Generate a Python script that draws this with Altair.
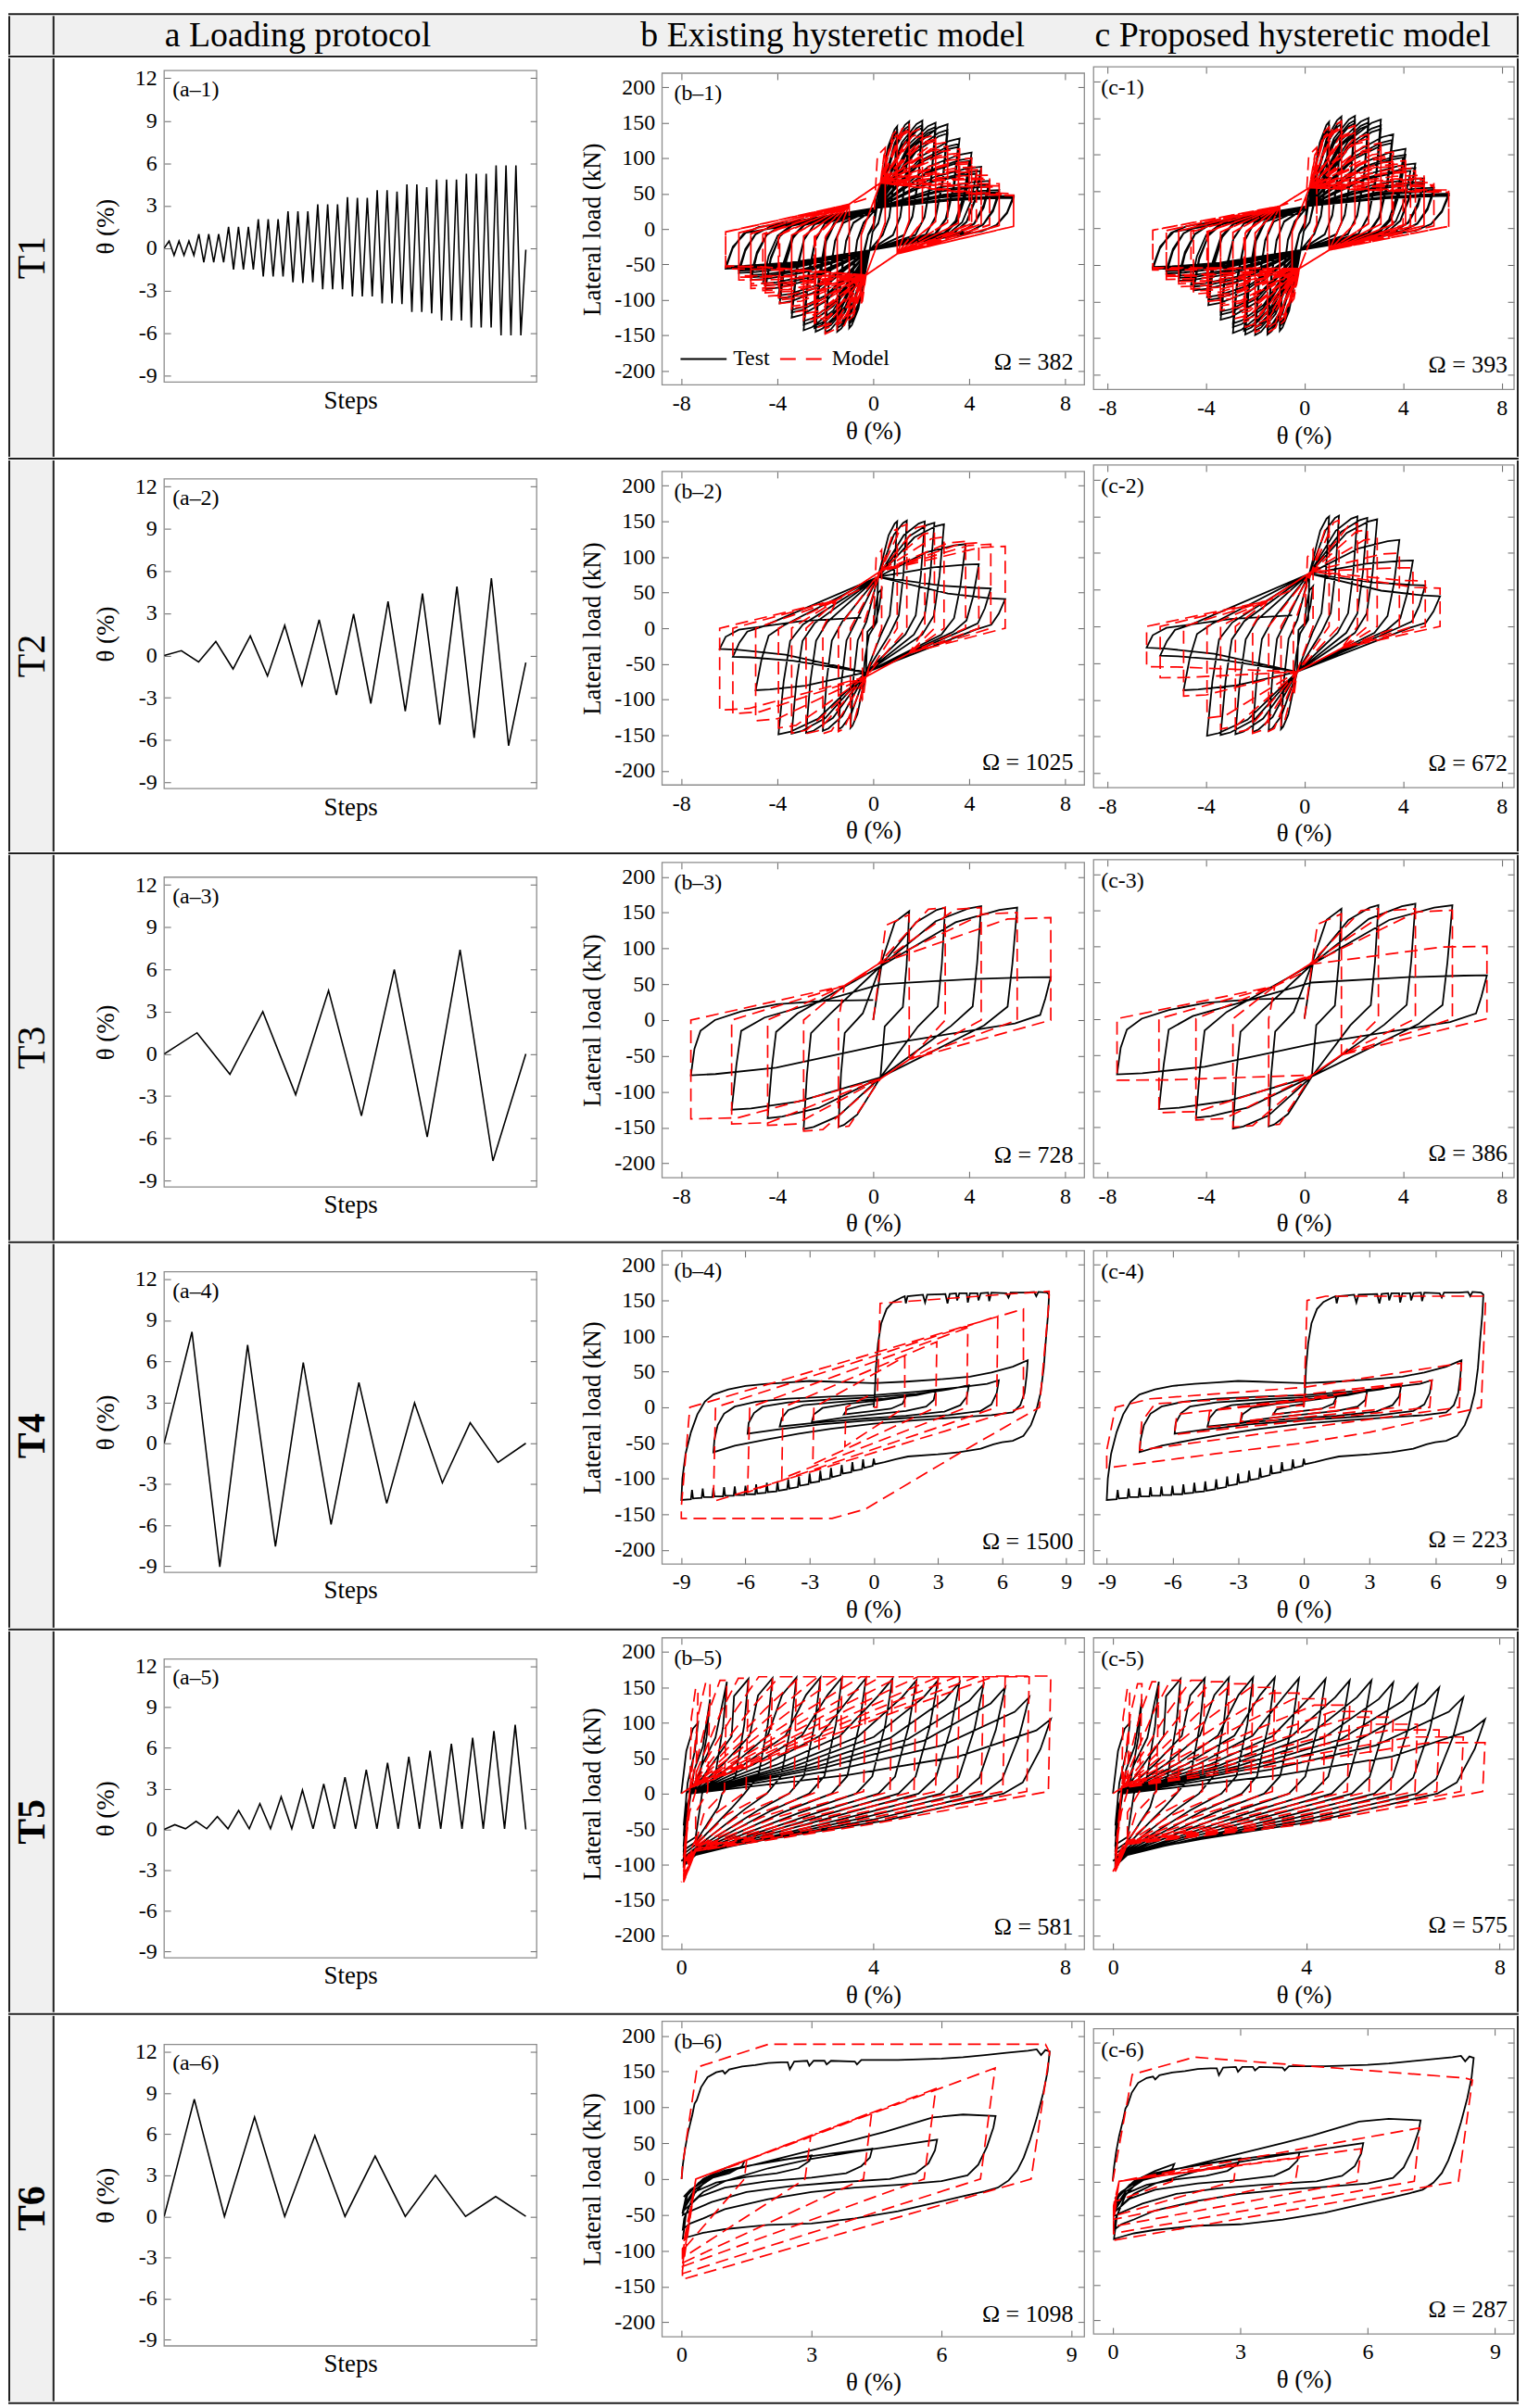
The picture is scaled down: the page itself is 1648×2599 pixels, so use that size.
import altair as alt
import pandas as pd

FONT = "Liberation Serif"
BOX = "#8c8c8c"
TICKC = "#666666"
TBL = "#1f1f1f"
CELLBG = "#f0f0f0"

# ---------------- Loading protocols (reversal drift, %) ----------------
T1_pos = [0.5, 0.5, 0.5, 1.0, 1.0, 1.0, 1.5, 1.5, 1.5, 2.05, 2.05, 2.05,
          2.6, 2.6, 2.6, 3.1, 3.1, 3.1, 3.6, 3.55, 3.55, 4.1, 4.1, 4.0,
          4.5, 4.5, 4.3, 4.85, 4.85, 4.85, 5.25, 5.25, 5.25, 5.85, 5.85, 5.85]
T1_neg = [-0.5, -0.5, -0.5, -1.0, -1.0, -1.0, -1.5, -1.5, -1.5, -2.0, -2.0, -2.0,
          -2.4, -2.45, -2.4, -2.9, -2.9, -2.9, -3.4, -3.4, -3.4, -3.9, -3.9, -3.95,
          -4.5, -4.5, -4.6, -5.1, -5.1, -5.1, -5.6, -5.6, -5.6, -6.15, -6.15, -6.15]
T1_end = -0.1
T2_pos = [0.35, 1.0, 1.4, 2.15, 2.55, 2.95, 3.85, 4.4, 4.9, 5.5]
T2_neg = [-0.45, -0.95, -1.45, -2.1, -2.8, -3.4, -3.95, -4.9, -5.85, -6.4]
T2_end = -0.5
T3_rev = [0.0, 1.5, -1.45, 3.0, -2.9, 4.5, -4.4, 6.0, -5.9, 7.4, -7.6, 0.0]
T4_rev = [0.0, 8.15, -9.05, 7.2, -7.55, 5.9, -5.95, 4.45, -4.4, 2.95, -2.9, 1.5, -1.4, 0.0]
T5_peak = [0.35, 0.6, 0.95, 1.4, 1.9, 2.4, 2.9, 3.35, 3.85, 4.4, 4.9, 5.35, 5.8, 6.3, 6.75, 7.25, 7.7]
T5_valley = [0.05, 0.05, 0.05, 0.05, 0.05, 0.05, 0.05, 0.05, 0.05, 0.05, 0.05, 0.05, 0.05, 0.05, 0.05, 0.05, 0.0]
T6_rev = [0.0, 8.55, 0.0, 7.25, 0.0, 5.9, 0.0, 4.4, 0.0, 3.0, 0.0, 1.45, 0.0]

# ---------------- Peak lateral loads (kN) per cycle ----------------
T1_test_Fp = [72, 66, 64, 145, 138, 134, 152, 146, 142, 153, 147, 143, 150, 144, 140, 148, 140, 135,
              128, 120, 116, 108, 100, 96, 88, 82, 78, 68, 63, 60, 55, 52, 50, 47, 45, 44]
T1_test_Fn = [-70, -64, -62, -140, -134, -130, -145, -140, -136, -146, -140, -136, -145, -140, -136,
              -143, -135, -130, -125, -118, -114, -105, -98, -94, -85, -80, -77, -72, -68, -65,
              -62, -59, -57, -56, -54, -53]
T1_mb_Fp = [115, 108, 105, 140, 133, 130, 148, 141, 138, 143, 136, 132, 133, 127, 124, 123, 117, 114,
            113, 107, 104, 100, 95, 92, 88, 84, 81, 76, 72, 70, 64, 61, 59, 50, 48, 47]
T1_mb_Fn = [-105, -100, -97, -128, -122, -118, -142, -135, -131, -148, -141, -137, -140, -133, -129,
            -130, -124, -120, -118, -112, -109, -105, -100, -97, -95, -90, -87, -84, -80, -77,
            -72, -68, -66, -56, -53, -52]
T1_mc_Fp = [110, 104, 100, 138, 131, 128, 146, 139, 136, 140, 133, 130, 128, 122, 119, 116, 110, 107,
            104, 99, 96, 92, 88, 85, 82, 78, 76, 72, 68, 66, 62, 59, 57, 52, 50, 49]
T1_mc_Fn = [-100, -95, -92, -132, -126, -122, -143, -136, -132, -142, -135, -131, -135, -128, -124,
            -124, -118, -114, -112, -106, -103, -100, -95, -92, -90, -86, -83, -80, -76, -73,
            -70, -66, -64, -57, -55, -54]

T2_test_Fp = [55, 150, 151, 150, 148, 146, 118, 90, 56, 41]
T2_test_Fn = [-80, -140, -142, -144, -147, -148, -149, -87, -40, -29]
T2_mb_Fp = [110, 140, 146, 144, 135, 128, 122, 120, 118, 115]
T2_mb_Fn = [-100, -138, -145, -148, -148, -147, -140, -130, -120, -115]
T2_mc_Fp = [105, 138, 145, 140, 132, 120, 100, 80, 62, 52]
T2_mc_Fn = [-95, -135, -143, -146, -145, -140, -125, -95, -70, -55]

T3_test_F = [152, -149, 157, -152, 159, -137, 157, -125, 60, -77]
T3_mb_F = [147, -150, 157, -155, 157, -147, 150, -145, 143, -138]
T3_mc_F = [145, -148, 152, -150, 152, -140, 150, -130, 100, -85]
T3_pinF_pos = [75, 75, 75, 75, 50]
T3_pinF_neg = [-80, -80, -80, -80, -35]

T5_test_Fp = [100, 133, 158, 162, 163, 164, 164, 164, 163, 162, 160, 160, 157, 154, 150, 136, 105]
T5_test_Fl = [-45, -60, -72, -80, -85, -90, -93, -95, -97, -98, -100, -100, -101, -102, -100, -98, -95]
T5_mb_Fp = [148, 157, 160, 163, 165, 165, 165, 165, 165, 165, 165, 165, 165, 165, 165, 165, 166]
T5_mb_Fl = [-90, -100, -105, -110, -112, -115, -117, -118, -120, -120, -121, -122, -123, -124, -124, -125, -125]
T5_mc_Fp = [148, 155, 158, 160, 160, 158, 155, 150, 142, 134, 125, 116, 108, 98, 90, 80, 72]
T5_mc_Fl = [-85, -95, -100, -103, -105, -106, -107, -108, -108, -109, -109, -110, -110, -110, -110, -110, -110]

# explicit traced paths (drift %, load kN)
T4_test = [(0, 0), (0.05, 20), (0.1, 55), (0.2, 90), (0.35, 118), (0.6, 138), (0.9, 148), (1.3, 154),
           (1.45, 156), (1.5, 146), (1.58, 156), (2.3, 158), (2.4, 147), (2.5, 158), (3.35, 159),
           (3.45, 146), (3.55, 159), (3.85, 160), (3.9, 150), (4.0, 160), (4.35, 160), (4.4, 147),
           (4.5, 160), (4.85, 160), (4.9, 150), (5.0, 160), (5.35, 161), (5.4, 149), (5.5, 161),
           (6.2, 160), (6.3, 154), (6.4, 161), (7.1, 161), (7.5, 162), (7.6, 156), (7.7, 162),
           (8.1, 161), (8.2, 158),
           (8.15, 130), (8.05, 95), (7.95, 55), (7.8, 20), (7.6, -5), (7.35, -25), (7.0, -40), (6.5, -47),
           (6.0, -49), (5.6, -52), (5.0, -58), (4.0, -63), (3.0, -66), (1.6, -69), (1.0, -73), (0.5, -77),
           (0.05, -80), (0.0, -72), (-0.05, -82), (-0.45, -85), (-0.5, -73), (-0.55, -87), (-0.95, -89),
           (-1.0, -77), (-1.05, -91), (-1.45, -93), (-1.5, -81), (-1.55, -95), (-1.95, -98), (-2.0, -85),
           (-2.05, -100), (-2.45, -102), (-2.5, -89), (-2.55, -104), (-2.95, -106), (-3.0, -93),
           (-3.05, -108), (-3.45, -110), (-3.5, -97), (-3.55, -112), (-3.95, -114), (-4.0, -101),
           (-4.05, -115), (-4.45, -117), (-4.5, -104), (-4.55, -118), (-4.95, -119), (-5.0, -106),
           (-5.05, -120), (-5.45, -121), (-5.5, -108), (-5.55, -122), (-5.95, -122), (-6.0, -110),
           (-6.05, -123), (-6.45, -123), (-6.5, -111), (-6.55, -124), (-6.95, -124), (-7.0, -112),
           (-7.05, -125), (-7.45, -125), (-7.5, -113), (-7.55, -126), (-7.95, -126), (-8.0, -114),
           (-8.05, -127), (-8.45, -128), (-8.5, -116), (-8.55, -129), (-9.0, -130),
           (-8.95, -100), (-8.8, -65), (-8.55, -35), (-8.25, -10), (-7.9, 8), (-7.5, 18), (-6.8, 25),
           (-6.0, 30), (-5.0, 33), (-4.0, 35), (-3.0, 37), (-2.0, 36), (-1.0, 35), (0.0, 34), (1.5, 36),
           (3.0, 39), (4.5, 43), (5.5, 49), (6.5, 57), (7.2, 66),
           (7.15, 45), (7.05, 20), (6.85, 3), (6.5, -7), (5.5, -11), (4.0, -14), (2.0, -18), (0.0, -23),
           (-2.0, -30), (-3.5, -37), (-5.0, -45), (-6.5, -54), (-7.5, -63),
           (-7.45, -45), (-7.3, -25), (-7.0, -9), (-6.5, 1), (-5.5, 8), (-4.0, 12), (-2.0, 15), (0.0, 17),
           (2.0, 22), (4.0, 28), (5.3, 33), (5.85, 38),
           (5.75, 20), (5.5, 4), (5.0, -5), (3.5, -11), (1.5, -15), (-0.5, -19), (-2.5, -24), (-4.5, -31),
           (-5.9, -37),
           (-5.85, -22), (-5.6, -8), (-5.2, 1), (-4.0, 7), (-2.0, 11), (0.0, 14), (2.0, 19), (3.5, 25),
           (4.45, 31),
           (4.35, 15), (4.05, 3), (3.3, -6), (1.5, -12), (-0.5, -16), (-2.5, -21), (-4.4, -27),
           (-4.3, -15), (-4.0, -4), (-3.3, 3), (-1.5, 8), (0.5, 12), (2.0, 17), (2.9, 23),
           (2.8, 10), (2.45, 1), (1.5, -5), (0.0, -10), (-1.5, -15), (-2.9, -21),
           (-2.8, -10), (-2.4, -1), (-1.2, 5), (0.3, 10), (1.5, 15),
           (1.35, 5), (0.8, -2), (-0.3, -6), (-1.4, -10),
           (-1.25, -3), (-0.6, 2), (0.0, 5)]
T4_mb = [(0, 0), (0.15, 0), (0.3, 146), (8.2, 163), (8.2, 150), (7.75, 0), (4.2, -61), (-0.4, -143),
         (-1.95, -156), (-9.0, -156), (-9.0, -140), (-8.6, 0), (7.0, 138), (7.0, 0), (-7.5, -132),
         (-7.4, 0), (5.8, 128), (5.75, 0), (-5.9, -119), (-5.8, 0), (4.4, 112), (4.35, 0), (-4.3, -100),
         (-4.25, 0), (2.95, 92), (2.9, 0), (-2.85, -80), (-2.8, 0), (1.45, 71), (1.45, 0), (-1.35, -55),
         (-1.3, 0), (0.0, 20)]
T4_mc = [(0, 0), (0.15, 150), (1.0, 156), (8.2, 156), (8.3, 150), (8.1, 0), (3.0, -35), (0.0, -50),
         (-4.0, -65), (-9.0, -85), (-9.0, -60), (-8.6, 0), (-7.0, 12), (0.0, 28), (7.2, 62), (7.1, 0),
         (-7.5, -60), (-7.4, -20), (-6.8, 5), (0.0, 18), (5.85, 38), (5.75, 0), (-5.9, -38), (-5.8, -10),
         (0.0, 12), (4.45, 32), (4.35, 0), (-4.4, -28), (-4.3, -5), (0.0, 10), (2.9, 25), (2.8, 0),
         (-2.9, -20), (-2.8, 0), (1.5, 15), (1.4, 0), (-1.4, -10), (-1.3, 0), (0.0, 3)]

T6_test = [(0, 0), (0.03, 20), (0.08, 42), (0.15, 65), (0.25, 90), (0.3, 105), (0.35, 110), (0.45, 128),
           (0.6, 142), (0.8, 149), (0.95, 151), (1.0, 147), (1.1, 153), (1.4, 157), (1.7, 159), (2.0, 162),
           (2.3, 163), (2.45, 163), (2.5, 153), (2.6, 164), (2.9, 165), (2.95, 158), (3.05, 165),
           (3.3, 165), (3.35, 160), (3.45, 165), (4.0, 164), (4.05, 160), (4.15, 166), (5.0, 166),
           (6.0, 168), (6.5, 170), (7.0, 173), (7.5, 176), (8.0, 179), (8.2, 181), (8.3, 173), (8.4, 180),
           (8.5, 178),
           (8.45, 150), (8.35, 120), (8.2, 85), (8.05, 55), (7.9, 30), (7.75, 12), (7.55, -2), (7.3, -12),
           (7.0, -17), (6.5, -24), (6.0, -31), (5.0, -45), (4.0, -55), (3.0, -62), (2.5, -63), (2.0, -64),
           (1.5, -67), (1.0, -70), (0.5, -75), (0.2, -80), (0.03, -83),
           (0.1, -50), (0.3, -20), (0.6, 0), (1.0, 10), (2.0, 25), (3.0, 40), (4.0, 55), (4.7, 66),
           (5.8, 86), (6.5, 90), (7.25, 88),
           (7.2, 72), (7.05, 45), (6.85, 20), (6.6, 5), (6.0, -3), (5.0, -8), (4.0, -12), (3.0, -18),
           (2.0, -28), (1.0, -42), (0.5, -55), (0.2, -62), (0.03, -70),
           (0.06, -55), (0.2, -35), (0.5, -18), (1.0, -3), (2.0, 15), (3.0, 28), (4.0, 38), (5.0, 47),
           (5.9, 55),
           (5.85, 40), (5.7, 22), (5.4, 8), (4.8, 0), (3.5, -5), (2.5, -10), (1.5, -18), (0.7, -32),
           (0.2, -45), (0.03, -50),
           (0.08, -35), (0.3, -15), (0.8, 5), (1.5, 18), (2.5, 28), (3.5, 36), (4.4, 42),
           (4.35, 30), (4.15, 18), (3.8, 8), (3.0, 2), (2.0, -3), (1.0, -12), (0.4, -25), (0.03, -45),
           (0.1, -25), (0.4, -5), (1.0, 12), (2.0, 24), (3.0, 33),
           (2.95, 25), (2.7, 15), (2.2, 8), (1.5, 3), (0.8, -5), (0.3, -18), (0.03, -44),
           (0.15, -20), (0.5, 0), (1.0, 15), (1.45, 25),
           (1.4, 18), (1.1, 8), (0.6, 0), (0.2, -15), (0.05, -25)]
T6_mb = [(0, 0), (0.02, 18), (0.36, 156), (2.0, 188), (8.4, 188), (8.5, 176), (8.07, 0), (0.02, -140),
         (0.02, -128), (0.33, 0), (7.24, 155), (6.9, 0), (0.02, -132), (0.02, -120), (0.33, 0),
         (5.87, 126), (5.6, 0), (0.02, -122), (0.02, -112), (0.33, 0), (4.39, 93), (4.2, 0),
         (0.02, -117), (0.02, -105), (0.33, 0), (2.98, 59), (2.85, 0), (0.02, -110), (0.02, -98),
         (0.33, 0), (1.5, 25), (1.45, 0), (0.02, -100)]
T6_mc = [(0, 0), (0.46, 154), (1.92, 179), (8.29, 149), (8.47, 146), (8.14, 0), (0.02, -85),
         (0.02, -60), (0.15, 0), (7.23, 77), (7.1, 0), (0.02, -75), (0.02, -50), (0.15, 0), (5.85, 47),
         (5.75, 0), (0.02, -65), (0.02, -45), (0.15, 0), (4.39, 34), (4.3, 0), (0.02, -55), (0.02, -40),
         (0.15, 0), (2.9, 25), (2.85, 0), (0.02, -50), (0.02, -35), (0.15, 0), (1.45, 15), (1.4, 0),
         (0.02, -30)]

OMEGA_B = [382, 1025, 728, 1500, 581, 1098]
OMEGA_C = [393, 672, 386, 223, 575, 287]
HEADERS = ["a Loading protocol", "b Existing hysteretic model", "c Proposed hysteretic model"]
ROWS = ["T1", "T2", "T3", "T4", "T5", "T6"]
LEGEND = ["Test", "Model"]

# ---------------- path assembly from the read values ----------------
def alt_seq(a, b):
    out = []
    for p, q in zip(a, b):
        out += [p, q]
    return out


def mono(cands, d0, d1):
    s = 1.0 if d1 > d0 else -1.0
    out, last = [], d0
    for x, y in cands[:-1]:
        if s * (x - last) >= -1e-9 and s * (d1 - x) >= -1e-9:
            out.append((x, y))
            last = x
    out.append(cands[-1])
    return out


def half_black(d0, F0, d1, F1, px, pf, w):
    s = 1.0 if d1 > d0 else -1.0
    a = abs(d0)
    c = [(d0 + s * (w[0] + w[1] * a), 0.5 * F0),
         (d0 + s * (w[2] + w[3] * a), 0.12 * F0),
         (d0 + s * (w[4] + w[5] * a), 0.06 * s * abs(F1)),
         (px, pf),
         (px + 0.55 * (d1 - px), pf + 0.75 * (F1 - pf)),
         (px + 0.87 * (d1 - px), pf + 0.96 * (F1 - pf)),
         (d1, F1)]
    return mono(c, d0, d1)


def build_black(revs, pin_pos, pin_neg, w, final):
    d1, F1 = revs[0]
    pts = [(0.0, 0.0), (0.25 * d1, 0.55 * F1), (0.6 * d1, 0.9 * F1), (d1, F1)]
    for k in range(1, len(revs)):
        d0, F0 = revs[k - 1]
        d1, F1 = revs[k]
        px, pf = pin_pos if d1 > d0 else pin_neg
        if isinstance(pf, list):
            pf = pf[k // 2]
        pts += half_black(d0, F0, d1, F1, px, pf, w)
    return pts + final


def build_red(revs, A_pos, B_pos, A_neg, B_neg, u, f5, g5, final):
    d1, F1 = revs[0]
    pts = [(0.0, 0.0), (0.35 * d1, 0.9 * F1), (d1, F1)]
    for k in range(1, len(revs)):
        d0, F0 = revs[k - 1]
        d1, F1 = revs[k]
        A, B = (A_pos, B_pos) if d1 > d0 else (A_neg, B_neg)
        c = [(d0, u * F0), A, B,
             (B[0] + (1 - f5) * (d1 - B[0]), B[1] + g5 * (F1 - B[1])), (d1, F1)]
        pts += mono(c, d0, d1)
    return pts + final


def build_t5_black(peaks, Fp, valleys, Fl):
    pts = [(0.0, 0.0)]
    prev = (0.0, 0.0)
    for i in range(len(peaks)):
        dp, F = peaks[i], Fp[i]
        dl0, fl0 = prev
        if i == 0:
            up = [(0.3 * dp, 0.6 * F), (0.7 * dp, 0.92 * F), (dp, F)]
        else:
            up = [(dl0 + 0.04, 0.5 * fl0), (dl0 + 0.15, 0.0), (0.45 * dp, 0.25 * F),
                  (0.75 * dp, 0.5 * F), (dp - 0.3, 0.85 * F), (dp, F)]
        pts += mono(up, dl0, dp)
        dl, fl = valleys[i], Fl[i]
        down = [(dp - 0.06 - 0.02 * dp, 0.6 * F), (dp - 0.2 - 0.05 * dp, 0.15 * F),
                (dp - 0.45 - 0.07 * dp, 0.0), (0.55 * dp, -15 - 3 * dp), (0.3, 0.85 * fl), (dl, fl)]
        pts += mono(down, dp, dl - 1e-6)
        prev = (dl, fl)
    return pts


def build_t5_red(peaks, Fp, valleys, Fl):
    pts = [(0.0, 0.0)]
    prev = (0.0, 0.0)
    for i in range(len(peaks)):
        dp, F = peaks[i], Fp[i]
        dl0, fl0 = prev
        up = [(0.18, 8.0), (0.6 * dp, 0.72 * F), (0.85 * dp, F), (dp, F)]
        pts += mono(up, dl0, dp)
        dl, fl = valleys[i], Fl[i]
        down = [(dp - 0.05, 3.0), (0.5 * dp, -25 - 2.5 * dp), (0.3, 0.65 * fl), (dl, fl)]
        pts += mono(down, dp, dl - 1e-6)
        prev = (dl, fl)
    return pts


T1_d = alt_seq(T1_pos, T1_neg)
T2_d = alt_seq(T2_pos, T2_neg)
T3_d = T3_rev[1:-1]
W_T1 = [0.1, 0.03, 0.25, 0.08, 0.45, 0.15]
W_T2 = [0.1, 0.03, 0.25, 0.06, 0.55, 0.12]
W_T3 = [0.08, 0.02, 0.22, 0.03, 0.9, 0.08]

TEST = [
    build_black(list(zip(T1_d, alt_seq(T1_test_Fp, T1_test_Fn))), (0.15, 30), (-0.15, -30), W_T1,
                [(-5.85, -25), (-5.3, -5), (-3.0, 8), (T1_end, 20)]),
    build_black(list(zip(T2_d, alt_seq(T2_test_Fp, T2_test_Fn))), (0.2, 72), (-0.3, -62), W_T2,
                [(-6.15, -12), (-5.6, -2), (-3.0, 10), (T2_end, 15)]),
    build_black(list(zip(T3_d, T3_test_F)), (0.3, T3_pinF_pos), (0.3, T3_pinF_neg), W_T3,
                [(-7.45, -40), (-7.2, -15), (-6.6, 0), (-5.5, 12), (-4.0, 22), (-2.0, 27), (0.0, 28)]),
    T4_test,
    build_t5_black(T5_peak, T5_test_Fp, T5_valley, T5_test_Fl),
    T6_test,
]
MODEL_B = [
    build_red(list(zip(T1_d, alt_seq(T1_mb_Fp, T1_mb_Fn))), (-1.0, 35), (0.3, 65), (1.0, -35), (-0.3, -65),
              0.08, 0.25, 0.92, [(-6.15, -4), (-1.0, 35), (T1_end, 45)]),
    build_red(list(zip(T2_d, alt_seq(T2_mb_Fp, T2_mb_Fn))), (-1.5, 40), (0.3, 80), (1.5, -35), (-0.3, -68),
              0.0, 0.2, 0.95, [(-6.4, 0), (-1.5, 40), (T2_end, 55)]),
    build_red(list(zip(T3_d, T3_mb_F)), (-1.2, 48), (0.2, 78), (1.5, -55), (0.3, -82),
              0.0, 0.25, 0.97, [(-7.6, 0), (-1.2, 48), (0.0, 70)]),
    T4_mb,
    build_t5_red(T5_peak, T5_mb_Fp, T5_valley, T5_mb_Fl),
    T6_mb,
]
MODEL_C = [
    build_red(list(zip(T1_d, alt_seq(T1_mc_Fp, T1_mc_Fn))), (-1.0, 30), (0.2, 55), (1.0, -30), (-0.2, -55),
              0.05, 0.25, 0.92, [(-6.15, -3), (-1.0, 30), (T1_end, 40)]),
    build_red(list(zip(T2_d, alt_seq(T2_mc_Fp, T2_mc_Fn))), (-1.5, 35), (0.3, 75), (1.5, -30), (-0.3, -62),
              0.0, 0.2, 0.95, [(-6.4, 0), (-1.5, 35), (T2_end, 50)]),
    build_red(list(zip(T3_d, T3_mc_F)), (-1.2, 45), (0.2, 75), (1.5, -50), (0.3, -78),
              0.0, 0.25, 0.97, [(-7.6, 0), (-1.2, 45), (0.0, 65)]),
    T4_mc,
    build_t5_red(T5_peak, T5_mc_Fp, T5_valley, T5_mc_Fl),
    T6_mc,
]
PROTO = [
    [0.0] + alt_seq(T1_pos, T1_neg) + [T1_end],
    [0.0] + alt_seq(T2_pos, T2_neg) + [T2_end],
    T3_rev, T4_rev,
    [0.0] + alt_seq(T5_peak, T5_valley),
    T6_rev,
]

# ---------------- layout ----------------
LW, A_CELL, B_CELL, C_CELL = 50, 566, 554, 468
TW = LW + A_CELL + B_CELL + C_CELL
HH = 42
ROW_H = [432, 424, 418, 416, 413, 418]
A_T = [13, 20, 24, 30, 30, 31]
A_H = [338, 336, 336, 326, 324, 327]
B_T = [16, 12, 8, 7, 7, 6]
B_H = [338, 340, 342, 340, 338, 342]
C_T = [9, 5, 5, 7, 7, 14]
C_H = [350, 350, 345, 340, 338, 331]
XT_B = [[-8, -4, 0, 4, 8]] * 3 + [[-9, -6, -3, 0, 3, 6, 9], [0, 4, 8], [0, 3, 6, 9]]
XD_B = [[-8.8, 8.8]] * 3 + [[-9.9, 9.85], [-0.4, 8.4], [-0.45, 9.3]]
XD_C = [[-8.55, 8.5]] * 3 + [[-9.6, 9.6], [-0.4, 8.3], [-0.45, 9.45]]
YT_H = [-200, -150, -100, -50, 0, 50, 100, 150, 200]
YT_A = [-9, -6, -3, 0, 3, 6, 9, 12]

ONE = pd.DataFrame({"k": [0]})
HYPHEN = "replace(datum.label, '\u2212', '-')"
LAB = dict(labelFont=FONT, labelFontSize=24, labelColor="black", titleFont=FONT,
           titleFontSize=27, titleColor="black", titleFontWeight="normal",
           grid=False, domain=False, labelFlush=False, labelOverlap=False)


def row_top(r):
    # all cells of a row share one origin; it sits this far below the row's top line
    return min(A_T[r], B_T[r], C_T[r])


def df_of(pts):
    return pd.DataFrame({"x": [p[0] for p in pts], "y": [p[1] for p in pts],
                         "i": list(range(len(pts)))})


def tick_axis(orient, values, extra=0):
    return alt.Axis(orient=orient, values=values, labels=False, domain=False, grid=False,
                    ticks=True, tickSize=7, offset=-7 - extra, tickColor=TICKC, tickWidth=1, title=None)


def frame(W, L, R, r):
    Tr = row_top(r)
    return alt.Chart(ONE).mark_rect(opacity=0).encode(
        x=alt.value(-L), x2=alt.value(W + R), y=alt.value(-Tr), y2=alt.value(ROW_H[r] - Tr))


def box(W, dT, Hv):
    return alt.Chart(ONE).mark_rect(filled=False, stroke=BOX, strokeWidth=1.3).encode(
        x=alt.value(0), x2=alt.value(W), y=alt.value(dT), y2=alt.value(Hv))


def tick_layers(xs, ys, xdom, ydom, xt, yt, dT):
    d = pd.DataFrame({"x": [xdom[0]], "y": [ydom[0]]})
    out = []
    for xo, yo in (("top", "right"), ("bottom", "left")):
        out.append(alt.Chart(d).mark_point(opacity=0).encode(
            x=alt.X("x:Q", scale=xs, axis=tick_axis(xo, xt, dT if xo == "top" else 0) if xt else None),
            y=alt.Y("y:Q", scale=ys, axis=tick_axis(yo, yt))))
    return out


def txt(t, x, y, align, size=24, weight="normal"):
    return alt.Chart(ONE).mark_text(text=t, align=align, baseline="middle", font=FONT, fontSize=size,
                                    fontWeight=weight, color="black").encode(x=alt.value(x), y=alt.value(y))


def proto_panel(r):
    seq = PROTO[r]
    W, L, R = 404, 119, A_CELL - 119 - 404
    H = A_H[r]
    dT = A_T[r] - row_top(r)
    Hv = H + dT
    n = len(seq) - 1
    xdom, ydom = [0, n * 1.03], [-9.45, 12.55]
    xs = alt.Scale(domain=xdom, nice=False, zero=False)
    ys = alt.Scale(domain=ydom, range=[Hv, dT], nice=False, zero=False)
    d = pd.DataFrame({"x": list(range(len(seq))), "y": seq})
    line = alt.Chart(d).mark_line(color="black", strokeWidth=1.6, clip=True).encode(
        x=alt.X("x:Q", scale=xs, axis=alt.Axis(labels=False, ticks=False, title="Steps", titlePadding=7, **LAB)),
        y=alt.Y("y:Q", scale=ys, axis=alt.Axis(values=YT_A, ticks=False, labelPadding=8, title="θ (%)",
                                                titlePadding=17, labelExpr=HYPHEN, **LAB)))
    layers = [frame(W, L, R, r), box(W, dT, Hv), line] + tick_layers(xs, ys, xdom, ydom, None, YT_A, dT)
    layers.append(txt(f"(a–{r + 1})", 9, dT + 21, "left"))
    return alt.layer(*layers).resolve_axis(x="independent", y="independent").properties(width=W, height=Hv)


def hyst_panel(r, col):
    if col == "b":
        W, L, H, T = 458, 93, B_H[r], B_T[r]
        R = B_CELL - L - W
        xdom, model, omega = XD_B[r], MODEL_B[r], OMEGA_B[r]
    else:
        W, L, H, T = 456, 7, C_H[r], C_T[r]
        R = C_CELL - L - W
        xdom, model, omega = XD_C[r], MODEL_C[r], OMEGA_C[r]
    Tr = row_top(r)
    dT = T - Tr
    Hv = H + dT
    ydom = [-220, 220]
    xt = XT_B[r]
    xs = alt.Scale(domain=xdom, nice=False, zero=False)
    ys = alt.Scale(domain=ydom, range=[Hv, dT], nice=False, zero=False)
    xax = alt.Axis(values=xt, ticks=False, labelPadding=8, title="θ (%)", titlePadding=5, labelExpr=HYPHEN, **LAB)
    yax = (alt.Axis(values=YT_H, ticks=False, labelPadding=8, title="Lateral load (kN)", titlePadding=9,
                    labelExpr=HYPHEN, **LAB)
           if col == "b" else None)
    tdf, mdf = df_of(TEST[r]), df_of(model)
    layers = [frame(W, L, R, r), box(W, dT, Hv)]
    layers.append(alt.Chart(tdf).mark_line(color="black", strokeWidth=1.8, clip=True).encode(
        x=alt.X("x:Q", scale=xs, axis=xax), y=alt.Y("y:Q", scale=ys, axis=yax), order="i:Q"))
    layers.append(alt.Chart(mdf).mark_line(color="red", strokeWidth=1.7, strokeDash=[14, 7], clip=True).encode(
        x=alt.X("x:Q", scale=xs, axis=None), y=alt.Y("y:Q", scale=ys, axis=None), order="i:Q"))
    layers += tick_layers(xs, ys, xdom, ydom, xt, YT_H, dT)
    if col == "b":
        layers.append(txt(f"(b–{r + 1})", 13, dT + 22, "left"))
        layers.append(txt(f"Ω = {omega}", W - 12, Hv - 24, "right", 26))
        if r == 0:
            ly = Hv - 28
            layers.append(alt.Chart(ONE).mark_rule(color="black", strokeWidth=2.2).encode(
                x=alt.value(20), x2=alt.value(70), y=alt.value(ly)))
            layers.append(txt(LEGEND[0], 77, ly, "left"))
            layers.append(alt.Chart(ONE).mark_rule(color="red", strokeWidth=2, strokeDash=[17, 11]).encode(
                x=alt.value(128), x2=alt.value(173), y=alt.value(ly)))
            layers.append(txt(LEGEND[1], 184, ly, "left"))
    else:
        layers.append(txt(f"(c-{r + 1})", 8, dT + 23, "left"))
        layers.append(txt(f"Ω = {omega}", W - 7, Hv - 26, "right", 26))
        layers.append(alt.Chart(ONE).mark_rule(color=TBL, strokeWidth=2).encode(
            x=alt.value(W + R - 1), y=alt.value(-Tr), y2=alt.value(ROW_H[r] - Tr)))
    return alt.layer(*layers).resolve_axis(x="independent", y="independent").properties(width=W, height=Hv)


def label_cell(r):
    H = ROW_H[r]
    Tr = row_top(r)
    base = alt.Chart(ONE)
    return alt.layer(
        base.mark_rect(color=CELLBG).encode(x=alt.value(0), x2=alt.value(LW), y=alt.value(-Tr),
                                            y2=alt.value(H - Tr)),
        base.mark_rule(color=TBL, strokeWidth=2).encode(x=alt.value(1), y=alt.value(-Tr), y2=alt.value(H - Tr)),
        base.mark_rule(color=TBL, strokeWidth=2).encode(x=alt.value(LW - 1), y=alt.value(-Tr),
                                                        y2=alt.value(H - Tr)),
        base.mark_text(text=ROWS[r], angle=270, baseline="middle", align="center", font=FONT, fontSize=42,
                       fontWeight="bold" if r >= 3 else "normal", color="black").encode(
            x=alt.value(LW / 2 + 1), y=alt.value(H / 2 - Tr)),
    ).properties(width=LW, height=H - 2 * Tr)


def hline():
    return alt.Chart(ONE).mark_rule(color=TBL, strokeWidth=2).encode(
        x=alt.value(0), x2=alt.value(TW), y=alt.value(1)).properties(width=TW, height=2)


base = alt.Chart(ONE)
header = alt.layer(
    base.mark_rect(color=CELLBG).encode(x=alt.value(0), x2=alt.value(TW), y=alt.value(0), y2=alt.value(HH)),
    base.mark_rule(color=TBL, strokeWidth=2).encode(x=alt.value(1), y=alt.value(0), y2=alt.value(HH)),
    base.mark_rule(color=TBL, strokeWidth=2).encode(x=alt.value(LW - 1), y=alt.value(0), y2=alt.value(HH)),
    base.mark_rule(color=TBL, strokeWidth=2).encode(x=alt.value(TW - 1), y=alt.value(0), y2=alt.value(HH)),
    txt(HEADERS[0], 314, HH / 2 + 1, "center", 38),
    txt(HEADERS[1], 894, HH / 2 + 1, "center", 38),
    txt(HEADERS[2], 1393, HH / 2 + 1, "center", 38),
).properties(width=TW, height=HH)

parts = [hline(), header, hline()]
for r in range(6):
    parts.append(alt.hconcat(label_cell(r), proto_panel(r), hyst_panel(r, "b"), hyst_panel(r, "c"), spacing=0))
    parts.append(hline())

chart = alt.vconcat(*parts, spacing=0).properties(padding=0).configure_view(stroke=None)
chart.save("out.html", embed_options={"renderer": "svg", "actions": False})
